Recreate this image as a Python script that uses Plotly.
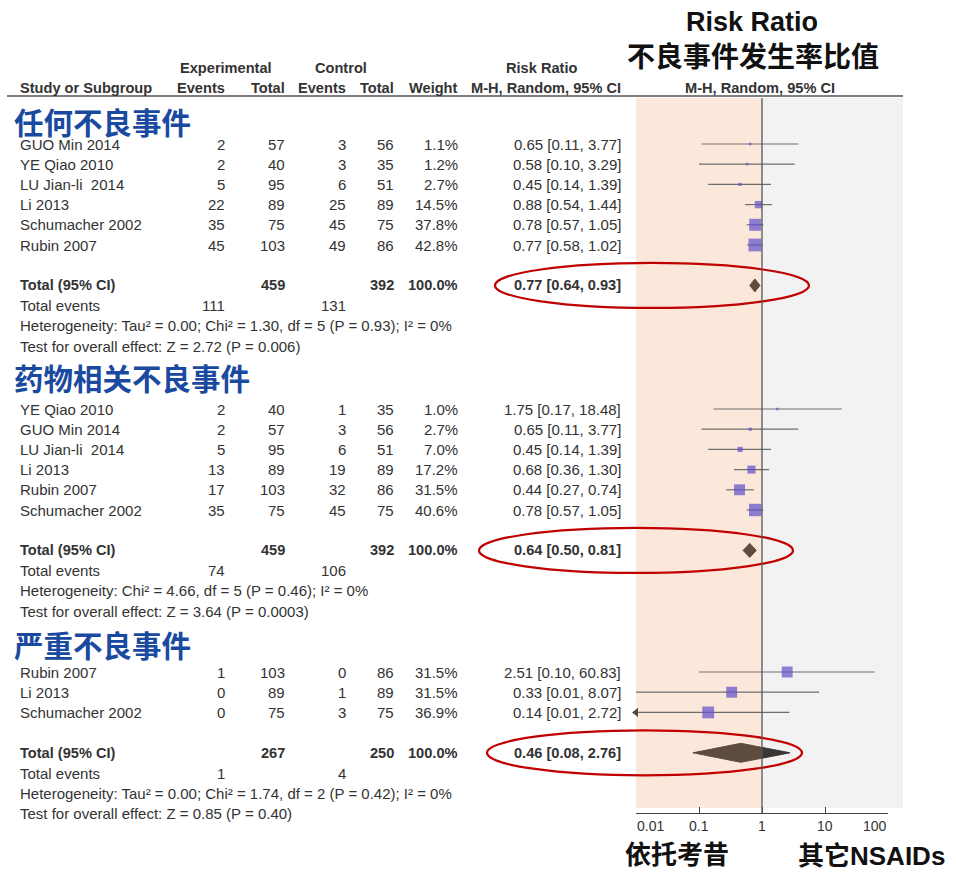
import math
import plotly.graph_objects as go

W, H = 956, 872

# ---------------- data ----------------
g1_title = "任何不良事件"
g1_study = ["GUO Min 2014", "YE Qiao 2010", "LU Jian-li  2014", "Li 2013", "Schumacher 2002", "Rubin 2007"]
g1_exp_events = [2, 2, 5, 22, 35, 45]
g1_exp_total = [57, 40, 95, 89, 75, 103]
g1_ctl_events = [3, 3, 6, 25, 45, 49]
g1_ctl_total = [56, 35, 51, 89, 75, 86]
g1_weight = [1.1, 1.2, 2.7, 14.5, 37.8, 42.8]
g1_rr = [0.65, 0.58, 0.45, 0.88, 0.78, 0.77]
g1_rr_lo = [0.11, 0.10, 0.14, 0.54, 0.57, 0.58]
g1_rr_hi = [3.77, 3.29, 1.39, 1.44, 1.05, 1.02]
g1_lo_beyond_axis = [False, False, False, False, False, False]
g1_total = [459, 392]
g1_events = [111, 131]
g1_pooled = [0.77, 0.64, 0.93]
g1_het = "Heterogeneity: Tau² = 0.00; Chi² = 1.30, df = 5 (P = 0.93); I² = 0%"
g1_test = "Test for overall effect: Z = 2.72 (P = 0.006)"

g2_title = "药物相关不良事件"
g2_study = ["YE Qiao 2010", "GUO Min 2014", "LU Jian-li  2014", "Li 2013", "Rubin 2007", "Schumacher 2002"]
g2_exp_events = [2, 2, 5, 13, 17, 35]
g2_exp_total = [40, 57, 95, 89, 103, 75]
g2_ctl_events = [1, 3, 6, 19, 32, 45]
g2_ctl_total = [35, 56, 51, 89, 86, 75]
g2_weight = [1.0, 2.7, 7.0, 17.2, 31.5, 40.6]
g2_rr = [1.75, 0.65, 0.45, 0.68, 0.44, 0.78]
g2_rr_lo = [0.17, 0.11, 0.14, 0.36, 0.27, 0.57]
g2_rr_hi = [18.48, 3.77, 1.39, 1.30, 0.74, 1.05]
g2_lo_beyond_axis = [False, False, False, False, False, False]
g2_total = [459, 392]
g2_events = [74, 106]
g2_pooled = [0.64, 0.50, 0.81]
g2_het = "Heterogeneity: Chi² = 4.66, df = 5 (P = 0.46); I² = 0%"
g2_test = "Test for overall effect: Z = 3.64 (P = 0.0003)"

g3_title = "严重不良事件"
g3_study = ["Rubin 2007", "Li 2013", "Schumacher 2002"]
g3_exp_events = [1, 0, 0]
g3_exp_total = [103, 89, 75]
g3_ctl_events = [0, 1, 3]
g3_ctl_total = [86, 89, 75]
g3_weight = [31.5, 31.5, 36.9]
g3_rr = [2.51, 0.33, 0.14]
g3_rr_lo = [0.10, 0.01, 0.01]
g3_rr_hi = [60.83, 8.07, 2.72]
g3_lo_beyond_axis = [False, False, True]
g3_total = [267, 250]
g3_events = [1, 4]
g3_pooled = [0.46, 0.08, 2.76]
g3_het = "Heterogeneity: Tau² = 0.00; Chi² = 1.74, df = 2 (P = 0.42); I² = 0%"
g3_test = "Test for overall effect: Z = 0.85 (P = 0.40)"

axis_ticks = [0.01, 0.1, 1, 10, 100]
axis_ticktext = ["0.01", "0.1", "1", "10", "100"]

groups = [
    dict(title=g1_title, study=g1_study, ee=g1_exp_events, et=g1_exp_total, ce=g1_ctl_events,
         ct=g1_ctl_total, w=g1_weight, rr=g1_rr, lo=g1_rr_lo, hi=g1_rr_hi, clip=g1_lo_beyond_axis,
         total=g1_total, events=g1_events, pooled=g1_pooled, het=g1_het, test=g1_test),
    dict(title=g2_title, study=g2_study, ee=g2_exp_events, et=g2_exp_total, ce=g2_ctl_events,
         ct=g2_ctl_total, w=g2_weight, rr=g2_rr, lo=g2_rr_lo, hi=g2_rr_hi, clip=g2_lo_beyond_axis,
         total=g2_total, events=g2_events, pooled=g2_pooled, het=g2_het, test=g2_test),
    dict(title=g3_title, study=g3_study, ee=g3_exp_events, et=g3_exp_total, ce=g3_ctl_events,
         ct=g3_ctl_total, w=g3_weight, rr=g3_rr, lo=g3_rr_lo, hi=g3_rr_hi, clip=g3_lo_beyond_axis,
         total=g3_total, events=g3_events, pooled=g3_pooled, het=g3_het, test=g3_test),
]

# ---------------- layout constants ----------------
BODY = "Liberation Sans, Arial, sans-serif"
CJK = "Noto Sans CJK SC, sans-serif"
MIXED = "Liberation Sans, Noto Sans CJK SC, sans-serif"
TXT = "#333333"
BLUE = "#1a4aa0"
SQUARE = "#5f4fcb"
DIAMOND = "#5e4c3f"
CI_LINE = "#6e6e6e"
RED = "#c00000"
FS = 15          # body text
FB = 14.6        # bold table text

ROW = 20.2
title_y = [121, 377, 644]
first_y = [144, 409, 672]
ellipse_x = [(495, 809), (479, 793), (487, 802)]
diamond_half = [6.5, 7, 9.5]

# column anchors (page pixels)
X_NAME = 19
X_EE, X_ET, X_CE, X_CT, X_W, X_CI = 226, 286, 347, 395, 459, 622

AX_L, AX_R = 636, 888          # pixel span of log axis 0.01 .. 100
AX_Y = 813                      # axis baseline
PANEL_TOP, PANEL_BOTTOM, PANEL_RIGHT = 98, 808, 903


def px(x):
    return x / W


annotations = []
shapes = []
traces = []


def text(x, y, s, anchor="right", bold=False, size=None, color=TXT, family=BODY, yanchor="middle"):
    if size is None:
        size = FB if bold else FS
    annotations.append(dict(
        x=px(x), y=y, xref="paper", yref="y",
        text=f"<b>{s}</b>" if bold else s, showarrow=False,
        xanchor=anchor, yanchor=yanchor, borderpad=0,
        font=dict(size=size, color=color, family=family)))


def ci_text(rr, lo, hi):
    return f"{rr:.2f} [{lo:.2f}, {hi:.2f}]"


# ---------------- header ----------------
text(752, 22, "Risk Ratio", anchor="center", bold=True, size=27, color="#111", family=BODY)
text(753, 55, "不良事件发生率比值", anchor="center", bold=True, size=28, color="#111", family=CJK)

text(226, 68, "Experimental", anchor="center", bold=True)
text(341, 68, "Control", anchor="center", bold=True)
text(541, 68, "Risk Ratio", anchor="center", bold=True)

text(X_NAME, 88, "Study or Subgroup", anchor="left", bold=True)
text(X_EE, 88, "Events", bold=True)
text(X_ET, 88, "Total", bold=True)
text(X_CE, 88, "Events", bold=True)
text(X_CT, 88, "Total", bold=True)
text(X_W, 88, "Weight", bold=True)
text(X_CI, 88, "M-H, Random, 95% CI", bold=True)
text(760, 88, "M-H, Random, 95% CI", anchor="center", bold=True)

shapes.append(dict(type="line", xref="paper", yref="y", x0=px(7), x1=px(PANEL_RIGHT),
                   y0=96, y1=96, line=dict(color="#555", width=1.5)))

# ---------------- background panels ----------------
x_one = px(AX_L + (AX_R - AX_L) * 0.5)
shapes.append(dict(type="rect", xref="x", yref="y", x0=0.01, x1=1, y0=PANEL_TOP, y1=PANEL_BOTTOM,
                   fillcolor="#fce8db", line=dict(width=0), layer="below"))
shapes.append(dict(type="rect", xref="paper", yref="y", x0=x_one, x1=px(PANEL_RIGHT),
                   y0=PANEL_TOP, y1=PANEL_BOTTOM, fillcolor="#f2f2f2", line=dict(width=0), layer="below"))

# ---------------- groups ----------------
ci_x, ci_y = [], []
sq_x, sq_y, sq_s = [], [], []
arrow_y = []

for gi, g in enumerate(groups):
    text(13, title_y[gi], g["title"], anchor="left", bold=True, size=29.5, color=BLUE, family=CJK)
    n = len(g["study"])
    ys = [first_y[gi] + i * ROW for i in range(n)]
    for i, y in enumerate(ys):
        text(X_NAME, y, g["study"][i], anchor="left")
        text(X_EE, y, str(g["ee"][i]))
        text(X_ET, y, str(g["et"][i]))
        text(X_CE, y, str(g["ce"][i]))
        text(X_CT, y, str(g["ct"][i]))
        text(X_W, y, f"{g['w'][i]:.1f}%")
        text(X_CI, y, ci_text(g["rr"][i], g["lo"][i], g["hi"][i]))
        ci_x += [g["lo"][i], g["hi"][i], None]
        ci_y += [y, y, None]
        sq_x.append(g["rr"][i])
        sq_y.append(y)
        sq_s.append(max(2.5, 1.95 * math.sqrt(g["w"][i])))
        if g["clip"][i]:
            arrow_y.append(y)

    y_tot = ys[-1] + 2 * ROW
    text(X_NAME, y_tot, "Total (95% CI)", anchor="left", bold=True)
    text(X_ET, y_tot, str(g["total"][0]), bold=True)
    text(X_CT, y_tot, str(g["total"][1]), bold=True)
    text(X_W, y_tot, "100.0%", bold=True)
    est, lo, hi = g["pooled"]
    text(X_CI, y_tot, ci_text(est, lo, hi), bold=True)

    y_ev = y_tot + ROW
    text(X_NAME, y_ev, "Total events", anchor="left")
    text(X_EE, y_ev, str(g["events"][0]))
    text(X_CE, y_ev, str(g["events"][1]))
    text(X_NAME, y_ev + ROW, g["het"], anchor="left")
    text(X_NAME, y_ev + 2 * ROW, g["test"], anchor="left")

    # pooled diamond
    hd = diamond_half[gi]
    traces.append(go.Scatter(
        x=[lo, est, hi, est, lo], y=[y_tot, y_tot - hd, y_tot, y_tot + hd, y_tot],
        mode="lines", fill="toself", fillcolor=DIAMOND, line=dict(color=DIAMOND, width=1),
        hoverinfo="skip", showlegend=False))
    # part of the diamond lying right of the null line is drawn darker
    if est < 1 < hi:
        l_est, l_hi = math.log10(est), math.log10(hi)
        h1 = hd * l_hi / (l_hi - l_est)
        traces.append(go.Scatter(
            x=[1, hi, 1, 1], y=[y_tot - h1, y_tot, y_tot + h1, y_tot - h1],
            mode="lines", fill="toself", fillcolor="rgba(50,50,50,0.78)",
            line=dict(color="rgba(50,50,50,0.5)", width=1), hoverinfo="skip", showlegend=False))

    # highlight ring round the pooled estimate
    x0, x1 = ellipse_x[gi]
    shapes.append(dict(type="circle", xref="paper", yref="y", x0=px(x0), x1=px(x1),
                       y0=y_tot - 22.5, y1=y_tot + 22.5, line=dict(color=RED, width=2.2), layer="above"))

traces.insert(0, go.Scatter(x=ci_x, y=ci_y, mode="lines", line=dict(color=CI_LINE, width=1.2),
                            hoverinfo="skip", showlegend=False))
traces.append(go.Scatter(x=sq_x, y=sq_y, mode="markers",
                         marker=dict(symbol="square", size=sq_s, color=SQUARE, line=dict(width=0)),
                         hoverinfo="skip", showlegend=False))
traces.append(go.Scatter(x=[axis_ticks[0]] * len(arrow_y), y=arrow_y, mode="markers",
                         marker=dict(symbol="triangle-left", size=8, color="#4a4a4a"),
                         hoverinfo="skip", showlegend=False, cliponaxis=False))

# null line
shapes.append(dict(type="line", xref="x", yref="y", x0=1, x1=1, y0=PANEL_TOP, y1=AX_Y,
                   line=dict(color="#555", width=1.3), layer="above"))

# axis tick labels: end labels sit inside the axis span
for k, (tv, tt) in enumerate(zip(axis_ticks, axis_ticktext)):
    anchor = "left" if k == 0 else ("right" if k == len(axis_ticks) - 1 else "center")
    annotations.append(dict(
        x=math.log10(tv), y=826, xref="x", yref="y", text=tt, showarrow=False,
        xanchor=anchor, yanchor="middle", borderpad=0,
        font=dict(size=14, color=TXT, family=BODY)))

# side labels under the axis
text(677, H, "依托考昔", anchor="center", bold=True, size=26, color="#111", family=CJK, yanchor="bottom")
text(871, H, "其它NSAIDs", anchor="center", bold=True, size=26, color="#111", family=MIXED, yanchor="bottom")

fig = go.Figure(traces)
fig.update_layout(
    width=W, height=H, margin=dict(l=0, r=0, t=0, b=0, pad=0, autoexpand=False),
    paper_bgcolor="white", plot_bgcolor="rgba(0,0,0,0)",
    showlegend=False, annotations=annotations, shapes=shapes,
    xaxis=dict(type="log", domain=[px(AX_L), px(AX_R)], range=[-2, 2],
               anchor="free", position=(H - AX_Y) / H,
               tickvals=axis_ticks, showticklabels=False,
               showline=True, linecolor="#444", linewidth=1.2,
               ticks="inside", ticklen=6, tickcolor="#444", tickwidth=1.2,
               showgrid=False, zeroline=False, fixedrange=True, automargin=False),
    yaxis=dict(domain=[0, 1], range=[H, 0], visible=False,
               showgrid=False, zeroline=False, fixedrange=True),
)

fig.write_html("out.html")
